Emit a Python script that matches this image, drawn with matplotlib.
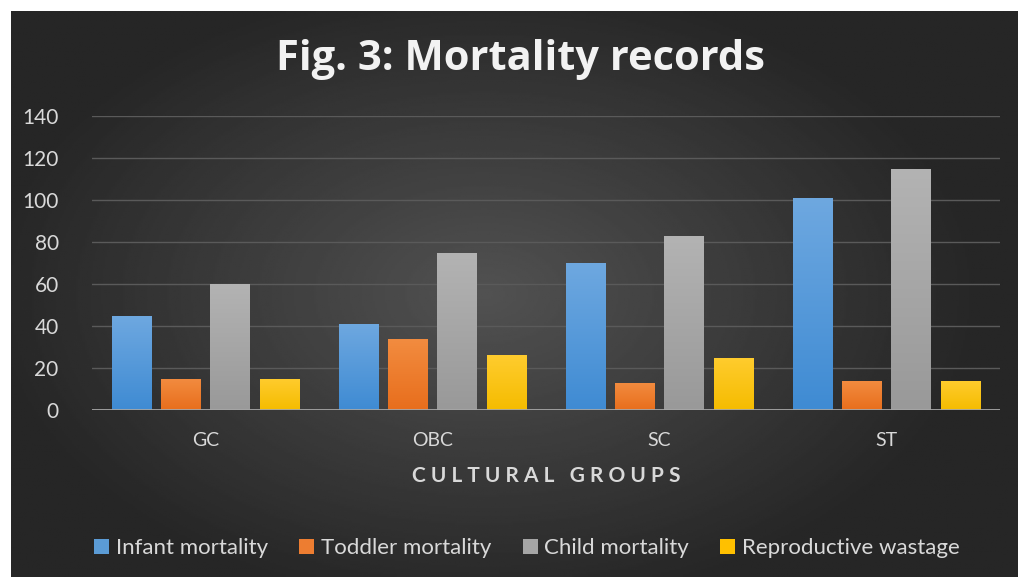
import numpy as np
import matplotlib.pyplot as plt
from matplotlib.colors import LinearSegmentedColormap

# Data
groups = ["GC", "OBC", "SC", "ST"]
series = ["Infant mortality", "Toddler mortality", "Child mortality", "Reproductive wastage"]
infant = [45, 41, 70, 101]
toddler = [15, 34, 13, 14]
child = [60, 75, 83, 115]
wastage = [15, 26, 25, 14]
colors = ["#5B9BD5", "#ED7D31", "#A5A5A5", "#FFC000"]
# (bottom, top) shades for the gradient fill
shades = [("#3f8bd3", "#6ea8e0"), ("#e86e1c", "#f28c40"), ("#999999", "#b3b3b3"), ("#f5bc00", "#ffcc2e")]

plt.rcParams['font.family'] = ['Lato', 'DejaVu Sans']

fig = plt.figure(figsize=(10.18, 5.77), dpi=100, facecolor="white")

# dark radial background
bg = fig.add_axes([11 / 1018, 0, 1 - 11 / 1018, 1 - 11 / 577])
yy, xx = np.mgrid[0:1:300j, 0:1:500j]
r = np.sqrt(((xx - 0.47) / 0.75) ** 2 + ((yy - 0.5) / 0.85) ** 2)
shade = np.clip(0.32 - 0.26 * r, 0.15, 0.32)
bg.imshow(shade, cmap="gray", vmin=0, vmax=1, aspect="auto", extent=[0, 1, 0, 1], origin="lower")
bg.axis("off")

ax = fig.add_axes([92 / 1018, (577 - 410) / 577, 908 / 1018, 294 / 577])
ax.patch.set_alpha(0)

x = np.arange(len(groups))
width = 0.172
step = 0.216
grad = np.linspace(0, 1, 100).reshape(-1, 1)
for i, (vals, name) in enumerate(zip([infant, toddler, child, wastage], series)):
    bars = ax.bar(x + (i - 1.5) * step, vals, width, color=colors[i], label=name, zorder=3)
    cmap = LinearSegmentedColormap.from_list("g%d" % i, shades[i])
    for b in bars:
        bx, by = b.get_xy()
        im = ax.imshow(grad, cmap=cmap, aspect="auto", origin="lower", zorder=3.5,
                       extent=[bx, bx + b.get_width(), by, by + b.get_height()])
        im.set_clip_path(b)

ax.set_xlim(-0.5, 3.5)
ax.set_ylim(0, 140)
ax.set_yticks(range(0, 141, 20))
ax.set_xticks(x)
ax.set_xticklabels(groups)
ax.grid(axis="y", color="#5a5a5a", linewidth=1, zorder=0)
ax.axhline(0, color="#a6a6a6", linewidth=2, zorder=4)
for s in ax.spines.values():
    s.set_visible(False)
ax.tick_params(axis="y", length=0, pad=24, labelsize=15, labelcolor="#d9d9d9")
ax.tick_params(axis="x", length=0, pad=16, labelsize=14, labelcolor="#d9d9d9")

ax.set_xlabel("C U L T U R A L   G R O U P S", fontsize=15, fontweight="bold", color="#d9d9d9", labelpad=12)

fig.text(521 / 1018, 1 - 60 / 577, "Fig. 3: Mortality records", ha="center", va="center",
         fontsize=30, fontweight="bold", color="#f2f2f2", family=["Open Sans", "DejaVu Sans"])

fig.legend(loc="center", bbox_to_anchor=(527 / 1018, 29 / 577), ncol=4, frameon=False,
           fontsize=16, labelcolor="#d9d9d9", handlelength=0.68, handleheight=0.68,
           handletextpad=0.3, columnspacing=1.4)

fig.savefig("out.png", dpi=100, facecolor=fig.get_facecolor())
